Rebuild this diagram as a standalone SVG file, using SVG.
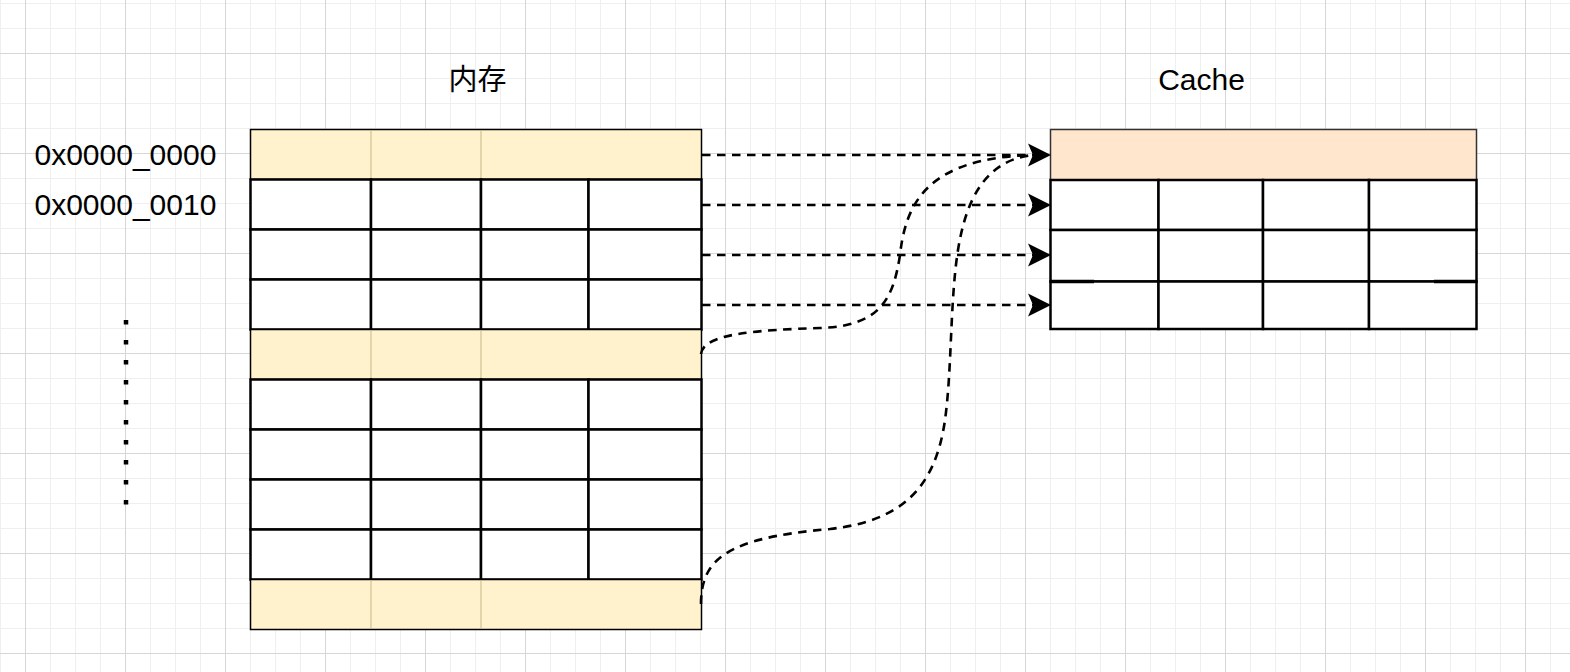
<svg xmlns="http://www.w3.org/2000/svg" width="1570" height="672" viewBox="0 0 1570 672">
<style>
.lbl{font-family:"Liberation Sans",Arial,sans-serif;font-size:30px;fill:#000}
.cjk{font-family:"Liberation Sans","Noto Sans CJK SC",sans-serif;font-size:29px;fill:#000}
.cell{fill:#fff;stroke:#000;stroke-width:2.5}
.hl{fill:#fff2cc;stroke:#000;stroke-width:1.5}
.sep{stroke:#c9b78a;stroke-width:1}
.ca{fill:#ffe6cc;stroke:#333;stroke-width:1.5}
.conn{fill:none;stroke:#000;stroke-width:2.6;stroke-dasharray:8.5 6.5}
</style>
<defs>
<pattern id="grid" x="25" y="53" width="100" height="100" patternUnits="userSpaceOnUse">
<path d="M25.5,0V100M50.5,0V100M75.5,0V100M0,25.5H100M0,50.5H100M0,75.5H100" stroke="#efefef" stroke-width="1" fill="none"/>
<path d="M0.5,0V100M0,0.5H100" stroke="#d6d6d6" stroke-width="1" fill="none"/>
</pattern>
<marker id="arr" markerWidth="26" markerHeight="26" refX="5" refY="12" orient="auto" markerUnits="userSpaceOnUse">
<path d="M0,0.5L23,12L0,23.5L5,12z" fill="#000"/>
</marker>
</defs>
<rect width="1570" height="672" fill="#fff"/>
<rect width="1570" height="672" fill="url(#grid)"/>

<g id="label-mem"><text class="cjk" x="477.5" y="90" text-anchor="middle">内存</text></g>
<g id="label-cache"><text class="lbl" x="1201.5" y="90" text-anchor="middle">Cache</text></g>
<g id="addr-0"><text class="lbl" x="34.5" y="165">0x0000_0000</text></g>
<g id="addr-1"><text class="lbl" x="34.5" y="215">0x0000_0010</text></g>
<g id="ellipsis"><line x1="126" y1="320" x2="126" y2="505" stroke="#000" stroke-width="4.5" stroke-dasharray="4.5 15.5"/></g>

<g id="memory">
<g id="mem-row-0"><rect class="hl" x="250.5" y="129.5" width="451" height="50"/><path class="sep" d="M371,130V179M481,130V179"/></g>
<g id="mem-row-1"><rect class="cell" x="250.5" y="179.5" width="120.5" height="50"/><rect class="cell" x="371" y="179.5" width="110" height="50"/><rect class="cell" x="481" y="179.5" width="107.5" height="50"/><rect class="cell" x="588.5" y="179.5" width="113" height="50"/></g>
<g id="mem-row-2"><rect class="cell" x="250.5" y="229.5" width="120.5" height="50"/><rect class="cell" x="371" y="229.5" width="110" height="50"/><rect class="cell" x="481" y="229.5" width="107.5" height="50"/><rect class="cell" x="588.5" y="229.5" width="113" height="50"/></g>
<g id="mem-row-3"><rect class="cell" x="250.5" y="279.5" width="120.5" height="50"/><rect class="cell" x="371" y="279.5" width="110" height="50"/><rect class="cell" x="481" y="279.5" width="107.5" height="50"/><rect class="cell" x="588.5" y="279.5" width="113" height="50"/></g>
<g id="mem-row-4"><rect class="hl" x="250.5" y="329.5" width="451" height="50"/><path class="sep" d="M371,330V379M481,330V379"/></g>
<g id="mem-row-5"><rect class="cell" x="250.5" y="379.5" width="120.5" height="50"/><rect class="cell" x="371" y="379.5" width="110" height="50"/><rect class="cell" x="481" y="379.5" width="107.5" height="50"/><rect class="cell" x="588.5" y="379.5" width="113" height="50"/></g>
<g id="mem-row-6"><rect class="cell" x="250.5" y="429.5" width="120.5" height="50"/><rect class="cell" x="371" y="429.5" width="110" height="50"/><rect class="cell" x="481" y="429.5" width="107.5" height="50"/><rect class="cell" x="588.5" y="429.5" width="113" height="50"/></g>
<g id="mem-row-7"><rect class="cell" x="250.5" y="479.5" width="120.5" height="50"/><rect class="cell" x="371" y="479.5" width="110" height="50"/><rect class="cell" x="481" y="479.5" width="107.5" height="50"/><rect class="cell" x="588.5" y="479.5" width="113" height="50"/></g>
<g id="mem-row-8"><rect class="cell" x="250.5" y="529.5" width="120.5" height="50"/><rect class="cell" x="371" y="529.5" width="110" height="50"/><rect class="cell" x="481" y="529.5" width="107.5" height="50"/><rect class="cell" x="588.5" y="529.5" width="113" height="50"/></g>
<g id="mem-row-9"><rect class="hl" x="250.5" y="579.5" width="451" height="50"/><path class="sep" d="M371,580V629M481,580V629"/></g>
</g>

<g id="cache">
<g id="cache-row-0"><rect class="ca" x="1050.5" y="129.5" width="426" height="50.5"/></g>
<g id="cache-row-1"><rect class="cell" x="1050.5" y="180" width="108" height="50"/><rect class="cell" x="1158.5" y="180" width="104.5" height="50"/><rect class="cell" x="1263" y="180" width="106" height="50"/><rect class="cell" x="1369" y="180" width="107.5" height="50"/></g>
<g id="cache-row-2"><rect class="cell" x="1050.5" y="230" width="108" height="51.5"/><rect class="cell" x="1158.5" y="230" width="104.5" height="51.5"/><rect class="cell" x="1263" y="230" width="106" height="51.5"/><rect class="cell" x="1369" y="230" width="107.5" height="51.5"/></g>
<g id="cache-row-3"><rect class="cell" x="1050.5" y="281.5" width="108" height="47.5"/><rect class="cell" x="1158.5" y="281.5" width="104.5" height="47.5"/><rect class="cell" x="1263" y="281.5" width="106" height="47.5"/><rect class="cell" x="1369" y="281.5" width="107.5" height="47.5"/><path d="M1051,281.5H1094M1434,281.5H1476" stroke="#000" stroke-width="3.5"/></g>
</g>

<g id="connectors">
<path class="conn" d="M702,155H1033" marker-end="url(#arr)"/>
<path class="conn" d="M702,205H1033" marker-end="url(#arr)"/>
<path class="conn" d="M702,255H1033" marker-end="url(#arr)"/>
<path class="conn" d="M702,305H1033" marker-end="url(#arr)"/>
<path class="conn" d="M701,354C703,333 760,330 820,328C880,326 893,300 900,255C906,200 930,158 1033,155"/>
<path class="conn" d="M701,604C701,560 725,538 830,529C900,521 935,490 945,420C952,370 950,300 958,250C966,200 985,160 1033,155"/>
</g>
</svg>
